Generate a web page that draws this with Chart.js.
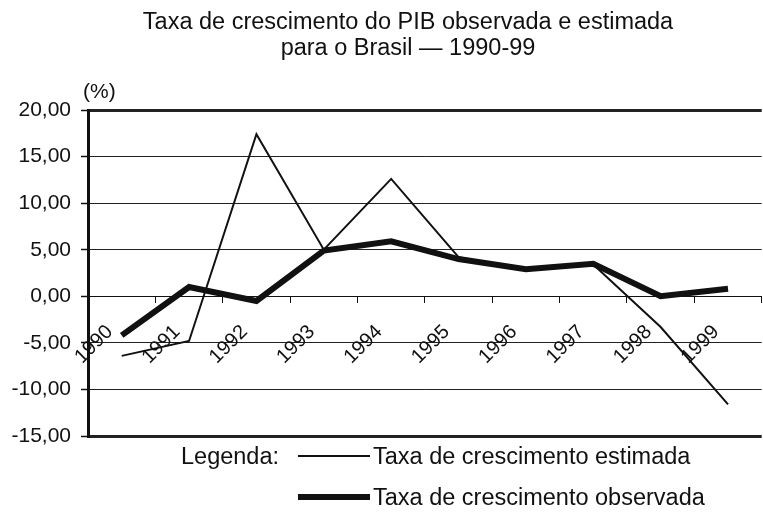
<!DOCTYPE html>
<html>
<head>
<meta charset="utf-8">
<script src="https://cdn.jsdelivr.net/npm/chart.js@4.4.1/dist/chart.umd.min.js"></script>
<style>
  html, body { margin: 0; padding: 0; background: #fff; }
  canvas { display: block; }
</style>
</head>
<body>
<canvas id="pibChart" width="763" height="519"></canvas>
<script>
const years = ["1990", "1991", "1992", "1993", "1994", "1995", "1996", "1997", "1998", "1999"];
const estimated = [-6.4, -4.8, 17.4, 5.0, 12.6, 4.2, 2.8, 3.4, -3.3, -11.6];
const observed = [-4.2, 1.0, -0.5, 4.9, 5.9, 4.0, 2.9, 3.5, 0.0, 0.8];
const yMin = -15;
const yMax = 20;
const yStep = 5;

const titleLines = ["Taxa de crescimento do PIB observada e estimada", "para o Brasil \u2014 1990-99"];
const unitLabel = "(%)";
const legendCaption = "Legenda:";
const seriesNames = ["Taxa de crescimento estimada", "Taxa de crescimento observada"];

const FONT = "'Liberation Sans', Arial, Helvetica, sans-serif";
const INK = "#111";

Chart.defaults.font.family = FONT;
Chart.defaults.color = INK;

// title, unit and the bottom legend are drawn by hand to sit where the original puts them
const annotations = {
    id: "annotations",
    afterDraw(chart) {
        const ctx = chart.ctx;
        ctx.save();
        ctx.fillStyle = INK;
        ctx.textBaseline = "alphabetic";

        ctx.font = "23.5px " + FONT;
        ctx.textAlign = "center";
        ctx.fillText(titleLines[0], 408, 29);
        ctx.fillText(titleLines[1], 408, 55);

        ctx.font = "21px " + FONT;
        ctx.textAlign = "left";
        ctx.fillText(unitLabel, 83, 98);

        ctx.font = "23.5px " + FONT;
        ctx.fillText(legendCaption, 181, 464);
        chart.data.datasets.forEach((ds, i) => {
            const cy = 456 + i * 41;
            ctx.strokeStyle = ds.borderColor;
            ctx.lineWidth = ds.borderWidth;
            ctx.beginPath();
            ctx.moveTo(298, cy);
            ctx.lineTo(370, cy);
            ctx.stroke();
            ctx.fillText(ds.label, 373, cy + 8);
        });
        ctx.restore();
    },
};

const edgeTick = (c) => c.tick && (c.tick.value === yMax || c.tick.value === yMin);

new Chart(document.getElementById("pibChart"), {
    type: "line",
    data: {
        labels: years,
        datasets: [
            {
                label: seriesNames[0],
                data: estimated,
                borderColor: INK,
                borderWidth: 2,
                pointRadius: 0,
                tension: 0,
            },
            {
                label: seriesNames[1],
                data: observed,
                borderColor: INK,
                borderWidth: 6,
                pointRadius: 0,
                tension: 0,
            },
        ],
    },
    options: {
        responsive: false,
        animation: false,
        layout: { padding: { top: 110, bottom: 83, left: 0, right: 0 } },
        plugins: {
            legend: { display: false },
            title: { display: false },
            tooltip: { enabled: false },
        },
        scales: {
            x: {
                type: "category",
                position: { y: 0 },
                offset: true,
                grid: {
                    offset: true,
                    drawOnChartArea: false,
                    drawTicks: true,
                    tickLength: 6,
                    color: INK,
                },
                border: { display: true, color: INK, width: 1 },
                ticks: {
                    autoSkip: false,
                    minRotation: 45,
                    maxRotation: 45,
                    padding: 18,
                    labelOffset: -12,
                    font: { size: 20 },
                    color: INK,
                },
            },
            y: {
                min: yMin,
                max: yMax,
                afterFit: (scale) => { scale.width = 88; },
                grid: {
                    color: "#222",
                    lineWidth: (c) => (edgeTick(c) ? 3 : 1),
                    tickLength: 7,
                    tickWidth: 1.5,
                    tickColor: INK,
                },
                border: { display: true, color: INK, width: 3 },
                ticks: {
                    stepSize: yStep,
                    padding: 10,
                    font: { size: 21 },
                    color: INK,
                    callback: (v) => v.toFixed(2).replace(".", ","),
                },
            },
        },
    },
    plugins: [annotations],
});
</script>
</body>
</html>
